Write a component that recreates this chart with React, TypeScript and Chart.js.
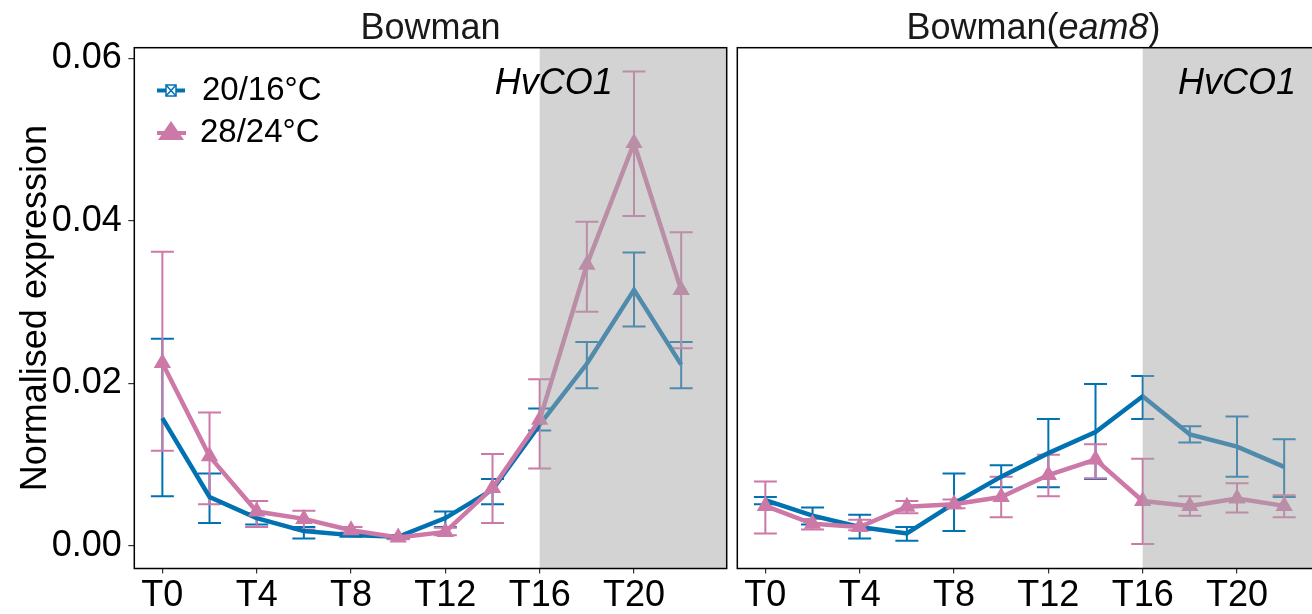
import { useEffect, useRef } from 'react';
import { Chart, registerables } from 'chart.js';

Chart.register(...registerables);

// ---------- data ----------
const hours = [0, 2, 4, 6, 8, 10, 12, 14, 16, 18, 20, 22];
const xTickValues = [0, 4, 8, 12, 16, 20];
const yTickValues = [0, 0.02, 0.04, 0.06];
const seriesLabels = ['20/16°C', '28/24°C'];

// Bowman
const bowmanColdMean = [0.0157, 0.0060, 0.0034, 0.0018, 0.0013, 0.0011, 0.0034, 0.0069, 0.0149, 0.0224, 0.0315, 0.0223];
const bowmanColdLow = [0.0061, 0.0028, 0.0026, 0.0009, 0.0011, 0.0009, 0.0023, 0.0051, 0.0142, 0.0194, 0.0270, 0.0194];
const bowmanColdHigh = [0.0255, 0.0089, 0.0040, 0.0023, 0.0016, 0.0013, 0.0042, 0.0082, 0.0169, 0.0251, 0.0361, 0.0251];
const bowmanWarmMean = [0.0225, 0.0110, 0.0042, 0.0033, 0.0019, 0.0010, 0.0017, 0.0071, 0.0155, 0.0346, 0.0496, 0.0315];
const bowmanWarmLow = [0.0117, 0.0051, 0.0023, 0.0020, 0.0016, 0.0008, 0.0013, 0.0028, 0.0095, 0.0288, 0.0406, 0.0243];
const bowmanWarmHigh = [0.0362, 0.0164, 0.0055, 0.0043, 0.0023, 0.0012, 0.0022, 0.0113, 0.0205, 0.0399, 0.0584, 0.0386];

// Bowman(eam8)
const eam8ColdMean = [0.0056, 0.0037, 0.0023, 0.0015, 0.0052, 0.0085, 0.0114, 0.0140, 0.0184, 0.0137, 0.0122, 0.0097];
const eam8ColdLow = [0.0051, 0.0026, 0.0009, 0.0006, 0.0018, 0.0072, 0.0072, 0.0082, 0.0156, 0.0127, 0.0085, 0.0060];
const eam8ColdHigh = [0.0060, 0.0047, 0.0038, 0.0023, 0.0089, 0.0099, 0.0156, 0.0199, 0.0209, 0.0147, 0.0159, 0.0131];
const eam8WarmMean = [0.0049, 0.0027, 0.0023, 0.0048, 0.0051, 0.0060, 0.0087, 0.0106, 0.0055, 0.0049, 0.0058, 0.0049];
const eam8WarmLow = [0.0015, 0.0020, 0.0019, 0.0040, 0.0046, 0.0035, 0.0061, 0.0083, 0.0002, 0.0037, 0.0041, 0.0035];
const eam8WarmHigh = [0.0079, 0.0033, 0.0032, 0.0055, 0.0057, 0.0085, 0.0112, 0.0125, 0.0107, 0.0061, 0.0077, 0.0062];

const shadeStart = 16;
const geneLabel = 'HvCO1';

// ---------- styles ----------
const BLUE = '#0072B2';
const PINK = '#CC79A7';
const SHADE = 'rgba(165,165,165,0.49)';
const FONT = '"Liberation Sans", Arial, Helvetica, sans-serif';
const X_MIN = -1.19;
const X_MAX = 23.93;
const Y_MIN = -0.00281;
const Y_MAX = 0.06133;

type Panel = {
  key: string;
  coldMean: number[]; coldLow: number[]; coldHigh: number[];
  warmMean: number[]; warmLow: number[]; warmHigh: number[];
  geneX: number;
  showY: boolean;
  title: { text: string; italic: boolean }[];
};

const panels: Panel[] = [
  {
    key: 'bowman',
    coldMean: bowmanColdMean, coldLow: bowmanColdLow, coldHigh: bowmanColdHigh,
    warmMean: bowmanWarmMean, warmLow: bowmanWarmLow, warmHigh: bowmanWarmHigh,
    geneX: 16.6, showY: true,
    title: [{ text: 'Bowman', italic: false }],
  },
  {
    key: 'eam8',
    coldMean: eam8ColdMean, coldLow: eam8ColdLow, coldHigh: eam8ColdHigh,
    warmMean: eam8WarmMean, warmLow: eam8WarmLow, warmHigh: eam8WarmHigh,
    geneX: 20, showY: false,
    title: [
      { text: 'Bowman(', italic: false },
      { text: 'eam8', italic: true },
      { text: ')', italic: false },
    ],
  },
];

function makePlugin(p: Panel) {
  return {
    id: 'custom_' + p.key,
    beforeDatasetsDraw(chart: any) {
      const { ctx } = chart;
      const xs = chart.scales.x;
      const ys = chart.scales.y;
      const half = 11.5;
      const drawBars = (low: number[], high: number[], color: string) => {
        ctx.save();
        ctx.strokeStyle = color;
        ctx.lineWidth = 2;
        hours.forEach((h, i) => {
          const x = xs.getPixelForValue(h);
          const y1 = ys.getPixelForValue(low[i]);
          const y2 = ys.getPixelForValue(high[i]);
          ctx.beginPath();
          ctx.moveTo(x, y1); ctx.lineTo(x, y2);
          ctx.moveTo(x - half, y1); ctx.lineTo(x + half, y1);
          ctx.moveTo(x - half, y2); ctx.lineTo(x + half, y2);
          ctx.stroke();
        });
        ctx.restore();
      };
      drawBars(p.coldLow, p.coldHigh, BLUE);
      drawBars(p.warmLow, p.warmHigh, PINK);
    },
    afterDatasetsDraw(chart: any) {
      const { ctx, chartArea } = chart;
      const xs = chart.scales.x;
      // night shading
      const sx = xs.getPixelForValue(shadeStart);
      ctx.save();
      ctx.fillStyle = SHADE;
      ctx.fillRect(sx, chartArea.top, chartArea.right - sx, chartArea.bottom - chartArea.top);
      ctx.restore();
      // border
      ctx.save();
      ctx.strokeStyle = '#000';
      ctx.lineWidth = 1.5;
      ctx.strokeRect(chartArea.left, chartArea.top, chartArea.right - chartArea.left, chartArea.bottom - chartArea.top);
      ctx.restore();
      // gene label
      ctx.save();
      ctx.fillStyle = '#000';
      ctx.font = `italic 36px ${FONT}`;
      ctx.textAlign = 'center';
      ctx.textBaseline = 'alphabetic';
      ctx.fillText(geneLabel, xs.getPixelForValue(p.geneX), 93.5);
      ctx.restore();
    },
    afterDraw(chart: any) {
      const { ctx, chartArea } = chart;
      // strip title
      ctx.save();
      ctx.fillStyle = '#1a1a1a';
      ctx.textBaseline = 'alphabetic';
      ctx.textAlign = 'left';
      let total = 0;
      const widths = p.title.map((t) => {
        ctx.font = `${t.italic ? 'italic ' : ''}36px ${FONT}`;
        const w = ctx.measureText(t.text).width;
        total += w;
        return w;
      });
      let x = (chartArea.left + chartArea.right) / 2 - total / 2;
      p.title.forEach((t, i) => {
        ctx.font = `${t.italic ? 'italic ' : ''}36px ${FONT}`;
        ctx.fillText(t.text, x, 38.5);
        x += widths[i];
      });
      ctx.restore();

      if (p.showY) {
        // y title
        ctx.save();
        ctx.fillStyle = '#000';
        ctx.font = `36px ${FONT}`;
        ctx.translate(46, (chartArea.top + chartArea.bottom) / 2);
        ctx.rotate(-Math.PI / 2);
        ctx.textAlign = 'center';
        ctx.textBaseline = 'alphabetic';
        ctx.fillText('Normalised expression', 0, 0);
        ctx.restore();

        // legend
        ctx.save();
        ctx.lineWidth = 4;
        ctx.strokeStyle = BLUE;
        ctx.beginPath();
        ctx.moveTo(157, 90.5); ctx.lineTo(185, 90.5);
        ctx.stroke();
        ctx.lineWidth = 1.5;
        ctx.fillStyle = '#fff';
        ctx.fillRect(166, 85, 10, 11);
        ctx.strokeRect(166, 85, 10, 11);
        ctx.beginPath();
        ctx.moveTo(166, 85); ctx.lineTo(176, 96);
        ctx.moveTo(176, 85); ctx.lineTo(166, 96);
        ctx.stroke();

        ctx.lineWidth = 4;
        ctx.strokeStyle = PINK;
        ctx.beginPath();
        ctx.moveTo(157, 133); ctx.lineTo(186, 133);
        ctx.stroke();
        ctx.fillStyle = PINK;
        ctx.beginPath();
        ctx.moveTo(171, 121); ctx.lineTo(184, 140); ctx.lineTo(158, 140);
        ctx.closePath();
        ctx.fill();

        ctx.fillStyle = '#000';
        ctx.font = `33px ${FONT}`;
        ctx.textAlign = 'left';
        ctx.textBaseline = 'alphabetic';
        ctx.fillText(seriesLabels[0], 202, 100);
        ctx.fillText(seriesLabels[1], 200, 141.5);
        ctx.restore();
      }
    },
  };
}

function buildConfig(p: Panel, width: number, areaLeft: number, areaRight: number): any {
  return {
    type: 'line',
    data: {
      datasets: [
        {
          label: seriesLabels[1],
          data: hours.map((h, i) => ({ x: h, y: p.warmMean[i] })),
          borderColor: PINK,
          backgroundColor: PINK,
          borderWidth: 4.5,
          pointStyle: 'triangle',
          pointRadius: 10,
          pointHoverRadius: 10,
          pointBorderWidth: 0,
          pointBackgroundColor: PINK,
          tension: 0,
          order: 0,
        },
        {
          label: seriesLabels[0],
          data: hours.map((h, i) => ({ x: h, y: p.coldMean[i] })),
          borderColor: BLUE,
          backgroundColor: BLUE,
          borderWidth: 4.5,
          pointRadius: 0,
          pointHoverRadius: 0,
          tension: 0,
          order: 1,
        },
      ],
    },
    options: {
      animation: false,
      responsive: false,
      maintainAspectRatio: false,
      events: [],
      layout: { autoPadding: false, padding: { top: 47.7, left: p.showY ? 0 : areaLeft, right: width - areaRight, bottom: 0 } },
      plugins: { legend: { display: false }, tooltip: { enabled: false }, title: { display: false } },
      scales: {
        x: {
          type: 'linear',
          min: X_MIN,
          max: X_MAX,
          afterBuildTicks: (s: any) => { s.ticks = xTickValues.map((v) => ({ value: v })); },
          afterFit: (s: any) => { s.height = 45.5; s.paddingLeft = 0; s.paddingRight = 0; },
          ticks: {
            autoSkip: false,
            maxRotation: 0,
            minRotation: 0,
            padding: 1,
            color: '#000',
            font: { family: FONT, size: 36 },
            callback: (v: any) => 'T' + v,
          },
          grid: { display: true, drawOnChartArea: false, drawTicks: true, tickLength: 5, color: '#333', lineWidth: 1.2 },
          border: { display: false },
        },
        y: {
          type: 'linear',
          display: p.showY,
          min: Y_MIN,
          max: Y_MAX,
          afterBuildTicks: (s: any) => { s.ticks = yTickValues.map((v) => ({ value: v })); },
          afterFit: (s: any) => {
            s.width = p.showY ? areaLeft : 0;
            s.paddingTop = 0; s.paddingBottom = 0; s.paddingLeft = 0; s.paddingRight = 0;
          },
          ticks: {
            padding: 6.5,
            color: '#000',
            font: { family: FONT, size: 36 },
            callback: (v: any) => Number(v).toFixed(2),
          },
          grid: { display: true, drawOnChartArea: false, drawTicks: true, tickLength: 6, color: '#333', lineWidth: 1.2 },
          border: { display: false },
        },
      },
    },
    plugins: [makePlugin(p)],
  };
}

function PanelChart({ p, left, width, areaLeft, areaRight }: { p: Panel; left: number; width: number; areaLeft: number; areaRight: number }) {
  const ref = useRef<HTMLCanvasElement | null>(null);
  useEffect(() => {
    if (!ref.current) return;
    const chart = new Chart(ref.current, buildConfig(p, width, areaLeft, areaRight));
    return () => chart.destroy();
  }, [p, width, areaLeft, areaRight]);
  return (
    <canvas
      ref={ref}
      width={width}
      height={614}
      style={{ position: 'absolute', left, top: 0, width, height: 614 }}
    />
  );
}

export default function App() {
  return (
    <div style={{ position: 'absolute', left: 0, top: 0, width: 1312, height: 614, overflow: 'hidden', background: '#fff' }}>
      <PanelChart p={panels[0]} left={0} width={730} areaLeft={134.3} areaRight={726.7} />
      <PanelChart p={panels[1]} left={730} width={610} areaLeft={7.3} areaRight={599.7} />
    </div>
  );
}
